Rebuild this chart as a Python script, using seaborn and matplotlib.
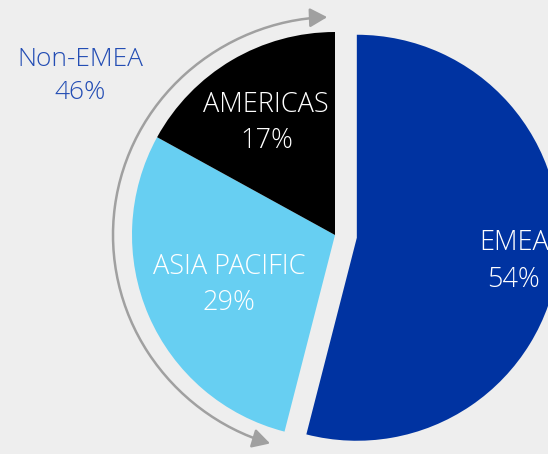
import numpy as np
import matplotlib
matplotlib.use("Agg")
import matplotlib.pyplot as plt
import seaborn as sns
from matplotlib import font_manager as fm
from matplotlib.path import Path
from matplotlib.patches import FancyArrowPatch
from matplotlib.transforms import Affine2D

# Revenue split by region
regions = ["EMEA", "ASIA PACIFIC", "AMERICAS"]
shares = [54, 29, 17]
group_label = "Non-EMEA"
group_share = 46

colors = ["#0033a1", "#67cff2", "#000000"]
label_dist = [0.78, 0.57, 0.665]
bg = "#eeeeee"


def light_family(candidates):
    """First candidate family that ships a light (<=300) face."""
    for fam in candidates:
        for f in fm.fontManager.ttflist:
            w = f.weight if isinstance(f.weight, int) else fm.weight_dict.get(f.weight, 400)
            if f.name == fam and w <= 300:
                return fam
    return candidates[0]


sns.set_theme(style="white", rc={"figure.facecolor": bg, "axes.facecolor": bg})
family = light_family(["Open Sans", "Noto Sans", "Lato", "Roboto"])
plt.rcParams["font.family"] = [family, "DejaVu Sans"]

W, H = 548, 454
fig = plt.figure(figsize=(W / 100, H / 100), dpi=100)
ax = fig.add_axes([0, 0, 1, 1])

cx, cy, R = 335, H - 235, 203
wedges, _ = ax.pie(
    shares, colors=colors, startangle=90, counterclock=False,
    center=(cx, cy), radius=R, explode=[22, 0, 0],
    wedgeprops=dict(linewidth=0),
)
ax.set_xlim(0, W)
ax.set_ylim(0, H)
ax.set_aspect("equal")
ax.axis("off")

# Region names and shares inside each wedge (nudged down a little so the
# cap-height centre, not the text box centre, sits on the anchor)
for w, name, val, d in zip(wedges, regions, shares, label_dist):
    mid = np.deg2rad((w.theta1 + w.theta2) / 2)
    x = w.center[0] + d * w.r * np.cos(mid)
    y = w.center[1] + d * w.r * np.sin(mid) - 4
    ax.text(x, y, f"{name}\n{val}%", ha="center", va="center", color="white",
            fontsize=19.5, fontweight="light", linespacing=1.4)

# Curved double arrow spanning the non-EMEA wedges
arc = Path.arc(92, 253)
arc = Affine2D().scale(222, 218).translate(cx, cy).transform_path(arc)
arrow = FancyArrowPatch(path=arc, arrowstyle="<|-|>,head_length=10.5,head_width=5.8",
                        color="#a0a0a0", lw=1.8, shrinkA=0, shrinkB=0, mutation_scale=1)
ax.add_patch(arrow)

ax.text(80, H - 76, f"{group_label}\n{group_share}%", ha="center", va="center",
        color="#234db4", fontsize=19, fontweight="light", linespacing=1.4)

fig.savefig("out.png", dpi=100, facecolor=bg)
